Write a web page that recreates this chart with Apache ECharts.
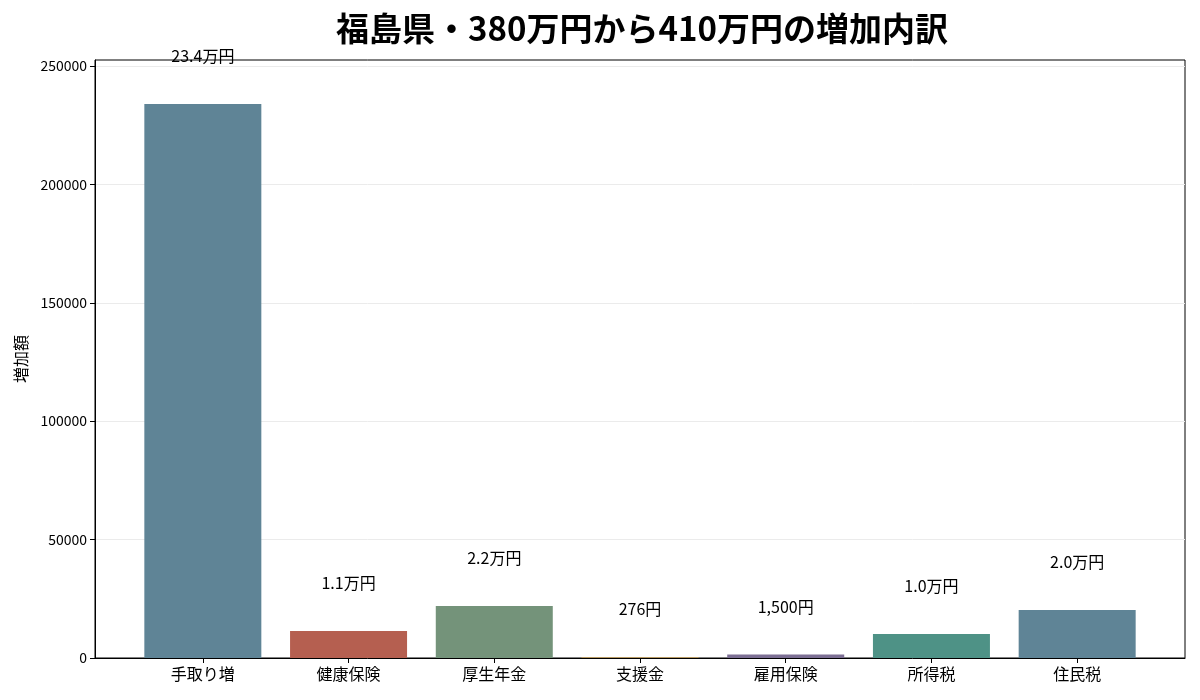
<!DOCTYPE html>
<html>
<head>
<meta charset="utf-8">
<script src="https://cdn.jsdelivr.net/npm/echarts@6/dist/echarts.min.js"></script>
<style>
  html, body { margin: 0; padding: 0; background: #fff; }
  #chart { width: 1200px; height: 700px; }
</style>
</head>
<body>
<div id="chart"></div>
<script>
// 増加内訳（円）
const categories = ['手取り増', '健康保険', '厚生年金', '支援金', '雇用保険', '所得税', '住民税']
const amounts = [233900, 11400, 22000, 276, 1500, 10100, 20300]
const barColors = ['#5f8496', '#b55f50', '#74937a', '#c9a25a', '#7c6f94', '#4e9286', '#5f8496']
const yTicks = [0, 50000, 100000, 150000, 200000, 250000]

const font = '"Noto Sans CJK JP", "Noto Sans", sans-serif'

function fmtYen(v) {
  if (v >= 10000) return (v / 10000).toFixed(1) + '万円'
  return v.toLocaleString('en-US') + '円'
}

const chart = echarts.init(document.getElementById('chart'))
const catIdx = categories.map((c, i) => i)

chart.setOption({
  animation: false,
  textStyle: { fontFamily: font },
  title: {
    text: '福島県・380万円から410万円の増加内訳',
    left: 637,
    textAlign: 'center',
    top: 7,
    textStyle: { fontSize: 33, fontWeight: 'bold', color: '#000', fontFamily: font }
  },
  grid: {
    left: 95, right: 15, top: 60, bottom: 42,
    show: true, borderColor: '#000', borderWidth: 1, backgroundColor: 'transparent'
  },
  xAxis: {
    type: 'value',
    min: -0.74,
    max: 6.74,
    splitLine: { show: false },
    axisLine: { show: true, onZero: false, lineStyle: { color: '#000' } },
    axisTick: { show: true, customValues: catIdx, length: 5, lineStyle: { color: '#000' } },
    axisLabel: {
      customValues: catIdx,
      formatter: v => categories[Math.round(v)],
      fontSize: 16, color: '#000', margin: 8, fontFamily: font
    }
  },
  yAxis: {
    type: 'value',
    min: 0,
    max: 252500,
    interval: 50000,
    name: '増加額',
    nameLocation: 'middle',
    nameGap: 66,
    nameRotate: 90,
    nameTextStyle: { fontSize: 16, color: '#000', fontFamily: font },
    axisLine: { show: true, onZero: false, lineStyle: { color: '#000' } },
    axisTick: { show: true, customValues: yTicks, length: 5, lineStyle: { color: '#000' } },
    axisLabel: {
      customValues: yTicks,
      formatter: v => String(v),
      fontSize: 14, color: '#000', margin: 8, fontFamily: font
    },
    splitLine: { show: true, lineStyle: { color: '#ebebeb', width: 1 } }
  },
  series: [{
    type: 'bar',
    barWidth: 117,
    data: amounts.map((v, i) => ({
      value: [i, v],
      itemStyle: { color: barColors[i] }
    })),
    label: {
      show: true,
      position: 'top',
      distance: 40,
      formatter: p => fmtYen(p.value[1]),
      fontSize: 16,
      color: '#000',
      fontFamily: font
    }
  }]
})
</script>
</body>
</html>
